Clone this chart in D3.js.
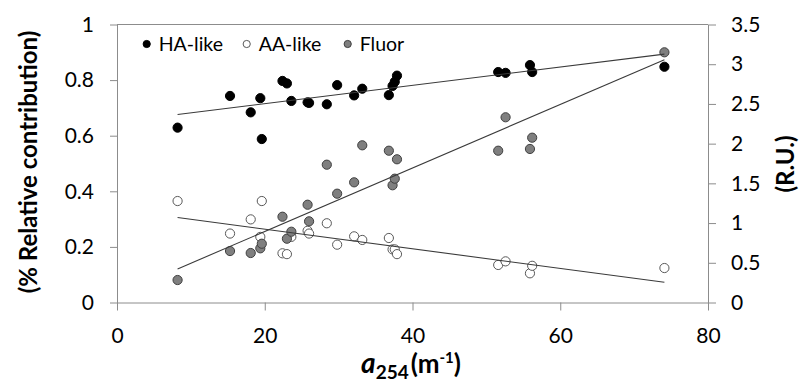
<!DOCTYPE html>
<html>
<head>
<meta charset="utf-8">
<script src="https://cdn.jsdelivr.net/npm/d3@7"></script>
<style>
  html, body { margin: 0; padding: 0; background: #fff; }
  svg text { font-family: Lato, 'Open Sans', sans-serif; fill: #000; }
</style>
</head>
<body>
<div id="chart"></div>
<script>
// a254 (m-1) of each sample, shared by the three series
const a254 = [8.2, 15.3, 18.1, 19.4, 19.6, 22.4, 23.0, 23.6, 25.8, 26.0, 28.4, 29.8,
              32.1, 33.2, 36.8, 37.3, 37.6, 37.9, 51.6, 52.6, 55.9, 56.2, 74.1];
// relative contribution (left axis)
const haLike = [0.629, 0.743, 0.684, 0.735, 0.588, 0.797, 0.788, 0.725, 0.720, 0.718, 0.713, 0.782,
                0.745, 0.769, 0.746, 0.779, 0.794, 0.816, 0.829, 0.826, 0.854, 0.829, 0.848];
const aaLike = [0.365, 0.248, 0.299, 0.236, 0.365, 0.177, 0.174, 0.236, 0.258, 0.248, 0.285, 0.208,
                0.238, 0.225, 0.232, 0.191, 0.191, 0.174, 0.135, 0.148, 0.105, 0.132, 0.124];
// fluorescence, R.U. (right axis)
const fluor = [0.283, 0.648, 0.623, 0.682, 0.740, 1.080, 0.803, 0.891, 1.231, 1.022, 1.735, 1.370,
               1.513, 1.979, 1.911, 1.476, 1.559, 1.803, 1.911, 2.332, 1.933, 2.075, 3.150];

const xTicks = [0, 20, 40, 60, 80];
const leftTicks = [0, 0.2, 0.4, 0.6, 0.8, 1];
const rightTicks = [0, 0.5, 1, 1.5, 2, 2.5, 3, 3.5];

const W = 801, H = 389;
const m = { left: 117, right: 93, top: 24.5, bottom: 86.5 };

const svg = d3.select('#chart').append('svg').attr('width', W).attr('height', H);

const x = d3.scaleLinear().domain([0, 80]).range([m.left, W - m.right]);
const yL = d3.scaleLinear().domain([0, 1]).range([H - m.bottom, m.top]);
const yR = d3.scaleLinear().domain([0, 3.5]).range([H - m.bottom, m.top]);

const axisColor = '#8c8c8c';

// axes
const gx = svg.append('g').attr('transform', `translate(0,${H - m.bottom})`)
    .call(d3.axisBottom(x).tickValues(xTicks).tickSize(8).tickSizeOuter(0).tickPadding(14));
const gl = svg.append('g').attr('transform', `translate(${m.left},0)`)
    .call(d3.axisLeft(yL).tickValues(leftTicks).tickSize(7).tickSizeOuter(0).tickPadding(16)
        .tickFormat(d => d3.format('~g')(d)));
const gr = svg.append('g').attr('transform', `translate(${W - m.right},0)`)
    .call(d3.axisRight(yR).tickValues(rightTicks).tickSize(8).tickSizeOuter(0).tickPadding(15)
        .tickFormat(d => d3.format('~g')(d)));

[gx, gl, gr].forEach(g => {
    g.select('.domain').attr('stroke', axisColor);
    g.selectAll('.tick line').attr('stroke', axisColor);
    g.selectAll('.tick text').attr('font-size', 21).attr('font-family', 'Lato, sans-serif');
});
gx.selectAll('.tick text').attr('dy', '0.9em');

// top border
svg.append('line')
    .attr('x1', m.left).attr('x2', W - m.right)
    .attr('y1', m.top).attr('y2', m.top)
    .attr('stroke', axisColor);

// linear trendline (least squares)
function fit(xs, ys) {
    const mx = d3.mean(xs), my = d3.mean(ys);
    let sxy = 0, sxx = 0;
    xs.forEach((v, i) => { sxy += (v - mx) * (ys[i] - my); sxx += (v - mx) ** 2; });
    const b = sxy / sxx;
    return v => my + b * (v - mx);
}

const series = [
    { name: 'HA-like', values: haLike, y: yL, fill: '#000', stroke: '#000' },
    { name: 'AA-like', values: aaLike, y: yL, fill: '#fff', stroke: '#595959' },
    { name: 'Fluor', values: fluor, y: yR, fill: '#7f7f7f', stroke: '#404040' }
];

series.forEach(s => {
    svg.append('g').selectAll('circle')
        .data(a254)
        .join('circle')
        .attr('cx', d => x(d))
        .attr('cy', (d, i) => s.y(s.values[i]))
        .attr('r', 4.6)
        .attr('fill', s.fill)
        .attr('stroke', s.stroke)
        .attr('stroke-width', 1);
});

// trendlines on top
const [xMin, xMax] = d3.extent(a254);
series.forEach(s => {
    const f = fit(a254, s.values);
    svg.append('line')
        .attr('x1', x(xMin)).attr('y1', s.y(f(xMin)))
        .attr('x2', x(xMax)).attr('y2', s.y(f(xMax)))
        .attr('stroke', '#3a3a3a')
        .attr('stroke-width', 1.1);
});

// legend
const legX = [146.7, 246.7, 347.7];
const legend = svg.append('g').selectAll('g')
    .data(series)
    .join('g')
    .attr('transform', (d, i) => `translate(${legX[i]},44)`);
legend.append('circle')
    .attr('r', 3.6)
    .attr('fill', d => d.fill)
    .attr('stroke', d => d.stroke);
legend.append('text')
    .attr('x', 12).attr('dy', '0.35em')
    .attr('font-size', 19.5)
    .text(d => d.name);

// axis titles
svg.append('text')
    .attr('transform', `translate(29,162) rotate(-90)`)
    .attr('text-anchor', 'middle').attr('dy', '0.35em')
    .attr('font-size', 24).attr('font-weight', 'bold')
    .text('(% Relative contribution)');

svg.append('text')
    .attr('transform', `translate(786,164) rotate(-90)`)
    .attr('text-anchor', 'middle').attr('dy', '0.35em')
    .attr('font-size', 24).attr('font-weight', 'bold')
    .text('(R.U.)');

const xt = svg.append('text')
    .attr('x', 411).attr('y', 373)
    .attr('text-anchor', 'middle')
    .attr('font-size', 26).attr('font-weight', 'bold');
xt.append('tspan').attr('font-style', 'italic').attr('font-size', 28).text('a');
xt.append('tspan').attr('font-size', 19).attr('dy', 6).text('254');
xt.append('tspan').attr('dy', -6).attr('dx', 2).text('(m');
xt.append('tspan').attr('font-size', 15).attr('dy', -10).text('-1');
xt.append('tspan').attr('dy', 10).text(')');
</script>
</body>
</html>
